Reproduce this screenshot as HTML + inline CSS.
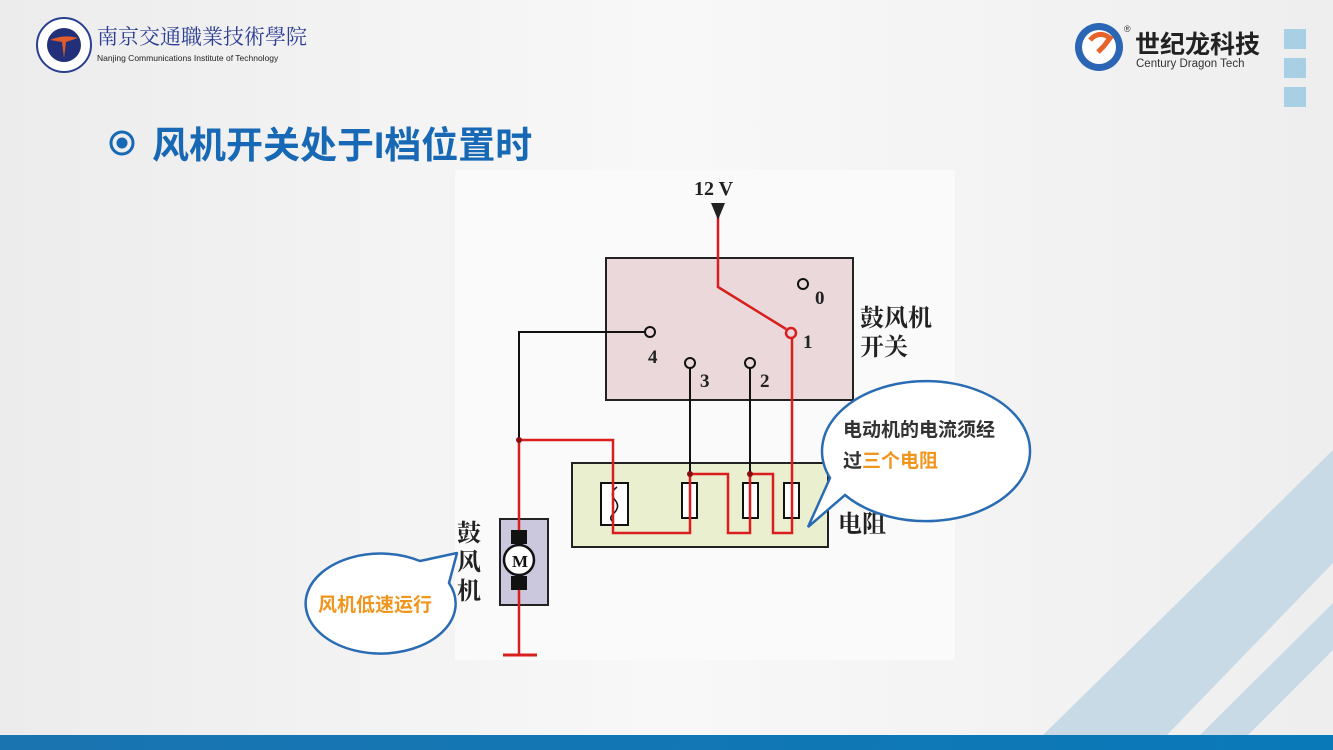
<!DOCTYPE html>
<html><head><meta charset="utf-8"><style>
body{margin:0;width:1333px;height:750px;overflow:hidden;font-family:"Liberation Sans","Noto Sans CJK SC",sans-serif;}
svg{display:block}
</style></head><body>
<svg width="1333" height="750" xmlns="http://www.w3.org/2000/svg">
<defs>
<linearGradient id="bg" x1="0" y1="0" x2="1" y2="0">
<stop offset="0" stop-color="#ececec"/><stop offset="0.5" stop-color="#f8f8f8"/><stop offset="1" stop-color="#eeeeee"/>
</linearGradient>
<linearGradient id="bar" x1="0" y1="0" x2="1" y2="0">
<stop offset="0" stop-color="#1a74b0"/><stop offset="1" stop-color="#0a79b8"/>
</linearGradient>
</defs>
<rect width="1333" height="750" fill="url(#bg)"/>
<rect x="455" y="170" width="500" height="490" fill="#fafafa"/>
<!-- stripes -->
<polygon points="1043,735 1333,450 1333,563 1167,735" fill="#c3d7e4" opacity="0.9"/>
<polygon points="1200,735 1333,603 1333,650 1248,735" fill="#c3d7e4" opacity="0.9"/>
<rect x="0" y="735" width="1333" height="15" fill="url(#bar)"/>
<!-- logo left -->
<circle cx="64" cy="45" r="27" fill="#fff" stroke="#2a3f8f" stroke-width="2"/>
<circle cx="64" cy="45" r="17" fill="#22307a"/>
<path d="M50 40 Q64 34 78 38 L66 42 L64 58 L62 42 Z" fill="#e25b2a"/>
<text x="97" y="44" font-family="'Noto Serif CJK SC',serif" font-size="21" fill="#2c3f94">南京交通職業技術學院</text>
<text x="97" y="61" font-size="8.5" fill="#222">Nanjing Communications Institute of Technology</text>
<!-- logo right -->
<circle cx="1099" cy="47" r="24" fill="#2a66b3"/>
<circle cx="1099" cy="47" r="17" fill="#fff"/>
<path d="M1090 40 Q1099 30 1110 38 L1104 46 L1098 52" stroke="#e8632a" stroke-width="5" fill="none"/>
<text x="1124" y="32" font-size="9" fill="#333">®</text>
<text x="1135" y="53" font-size="25" font-weight="bold" fill="#222">世纪龙科技</text>
<text x="1136" y="67" font-size="11.5" fill="#333">Century Dragon Tech</text>
<rect x="1284" y="29" width="22" height="20" fill="#a9cfe5"/>
<rect x="1284" y="58" width="22" height="20" fill="#a9cfe5"/>
<rect x="1284" y="87" width="22" height="20" fill="#a9cfe5"/>
<!-- title -->
<circle cx="122" cy="143" r="11" fill="none" stroke="#1768b5" stroke-width="3"/>
<circle cx="122" cy="143" r="5.5" fill="#1768b5"/>
<text x="152" y="158" font-size="37" font-weight="bold" fill="#1768b5">风机开关处于I档位置时</text>
<!-- boxes -->
<rect x="606" y="258" width="247" height="142" fill="#ead8da" stroke="#222" stroke-width="2"/>
<rect x="572" y="463" width="256" height="84" fill="#eaefd0" stroke="#222" stroke-width="2"/>
<rect x="500" y="519" width="48" height="86" fill="#cbc7dc" stroke="#222" stroke-width="2"/>
<!-- black wires -->
<polyline points="646,332 519,332 519,440" fill="none" stroke="#111" stroke-width="2"/>
<line x1="690" y1="367" x2="690" y2="474" stroke="#111" stroke-width="2"/>
<line x1="750" y1="367" x2="750" y2="474" stroke="#111" stroke-width="2"/>
<!-- resistors -->
<rect x="601" y="483" width="27" height="42" fill="#fff" stroke="#111" stroke-width="2"/>
<path d="M617 487 Q609 493 615 500 Q621 507 613 514 Q608 519 614 522" fill="none" stroke="#111" stroke-width="1.5"/>
<rect x="682" y="483" width="15" height="35" fill="#fff" stroke="#111" stroke-width="2"/>
<rect x="743" y="483" width="15" height="35" fill="#fff" stroke="#111" stroke-width="2"/>
<rect x="784" y="483" width="15" height="35" fill="#fff" stroke="#111" stroke-width="2"/>
<!-- red wires -->
<polyline points="718,205 718,287 786,329" fill="none" stroke="#d91e1e" stroke-width="2.5"/>
<polyline points="519,440 613,440 613,533 690,533 690,474 728,474 728,533 750,533 750,474 773,474 773,533 792,533 792,336" fill="none" stroke="#d91e1e" stroke-width="2.5"/>
<line x1="519" y1="440" x2="519" y2="655" stroke="#d91e1e" stroke-width="2.5"/>
<line x1="503" y1="655" x2="537" y2="655" stroke="#d91e1e" stroke-width="3"/>
<circle cx="519" cy="440" r="3" fill="#8a1010"/>
<circle cx="690" cy="474" r="3" fill="#8a1010"/>
<circle cx="750" cy="474" r="3" fill="#8a1010"/>
<!-- 12V arrow -->
<polygon points="711,203 725,203 718,220" fill="#222"/>
<text x="694" y="195" font-family="'Liberation Serif',serif" font-size="20" font-weight="bold" fill="#222">12 V</text>
<!-- terminals -->
<g fill="#ead8da" stroke="#111" stroke-width="2">
<circle cx="803" cy="284" r="5"/><circle cx="650" cy="332" r="5"/>
<circle cx="690" cy="363" r="5"/><circle cx="750" cy="363" r="5"/>
</g>
<circle cx="791" cy="333" r="5" fill="#ead8da" stroke="#d91e1e" stroke-width="2.5"/>
<g font-family="'Liberation Serif',serif" font-size="19" font-weight="bold" fill="#222">
<text x="815" y="304">0</text><text x="803" y="348">1</text><text x="648" y="363">4</text>
<text x="700" y="387">3</text><text x="760" y="387">2</text>
</g>
<g font-family="'Noto Serif CJK SC',serif" font-size="24" font-weight="bold" fill="#222">
<text x="860" y="326">鼓风机</text><text x="860" y="355">开关</text>
<text x="838" y="532">电阻</text>
<text x="457" y="541">鼓</text><text x="457" y="570">风</text><text x="457" y="599">机</text>
</g>
<!-- motor -->
<rect x="511" y="530" width="16" height="14" fill="#111"/>
<rect x="511" y="576" width="16" height="14" fill="#111"/>
<circle cx="519" cy="560" r="15" fill="#fff" stroke="#111" stroke-width="2.5"/>
<text x="512" y="567" font-family="'Liberation Serif',serif" font-size="17" font-weight="bold" fill="#111">M</text>
<!-- callouts -->
<path d="M845 495 A104 70 0 1 0 830 478 L808 527 Z" fill="#fff" stroke="#2a6cb3" stroke-width="2.5"/>
<text x="843" y="436" font-size="19" font-weight="bold" fill="#333">电动机的电流须经</text>
<text x="843" y="467" font-size="19" font-weight="bold" fill="#333">过<tspan fill="#f0961e">三个电阻</tspan></text>
<path d="M420 561 L457 553 L449 583 A75 50 0 1 1 420 561 Z" fill="#fff" stroke="#2a6cb3" stroke-width="2.5" stroke-linejoin="round"/>
<text x="318" y="611" font-size="19" font-weight="bold" fill="#f0961e">风机低速运行</text>
</svg>
</body></html>
